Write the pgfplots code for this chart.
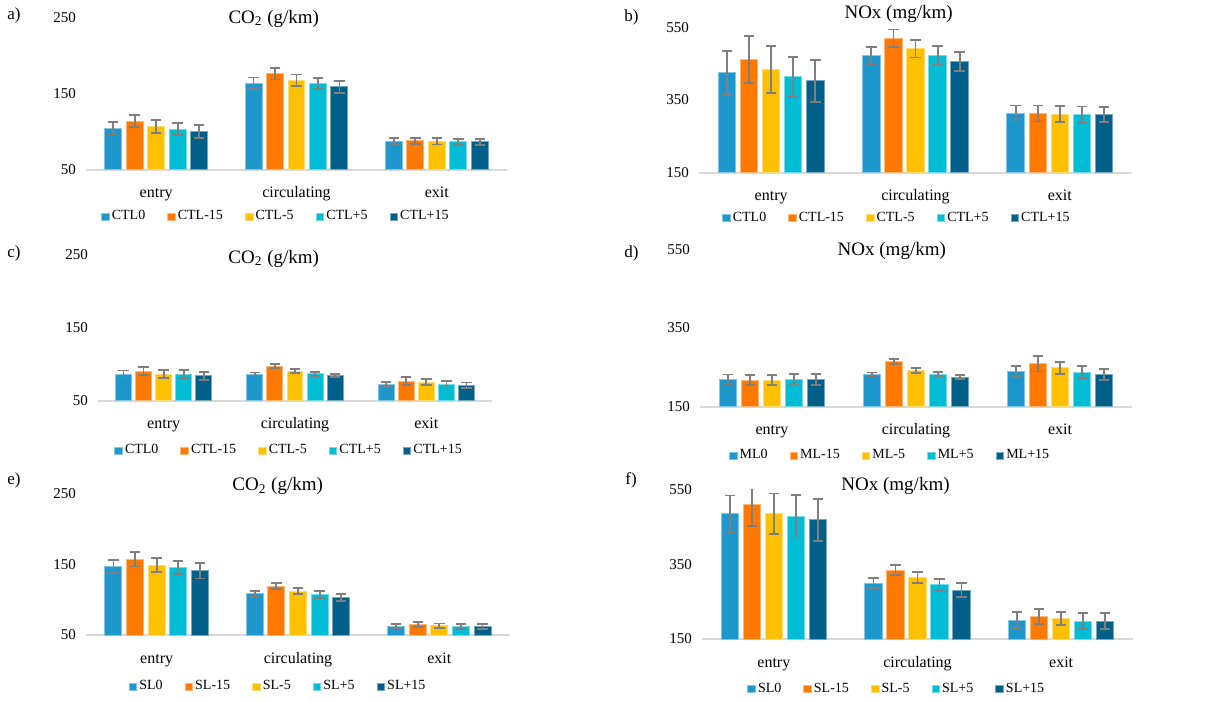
\documentclass[border=0pt]{standalone}
\usepackage{pgfplots}
\pgfplotsset{compat=1.18}
\usepackage{fontspec}
\setmainfont{Liberation Serif}
\definecolor{c0}{RGB}{30,152,204}
\definecolor{c1}{RGB}{255,120,0}
\definecolor{c2}{RGB}{255,192,0}
\definecolor{c3}{RGB}{0,188,212}
\definecolor{c4}{RGB}{0,96,138}
\definecolor{errgray}{RGB}{127,127,127}
\definecolor{basegray}{RGB}{217,217,217}
\pgfplotsset{
  panel/.style={
    scale only axis,
    xmin=-0.5, xmax=2.5,
    xtick={0,1,2}, xticklabels={entry,circulating,exit},
    axis x line*=bottom, axis y line*=left,
    x axis line style={draw=basegray, line width=1pt, -},
    y axis line style={draw=none},
    major tick length=0pt, tick style={draw=none},
    /pgf/number format/assume math mode=true,
    yticklabel style={font=\fontsize{7.5}{9}\selectfont, anchor=east, xshift=-1.5pt},
    xticklabel style={font=\fontsize{8}{9.6}\selectfont, anchor=base, yshift=-14pt},
    title style={font=\fontsize{9.5}{11}\selectfont, anchor=center},
    legend columns=5,
    legend style={draw=none, fill=none, font=\fontsize{7}{8}\selectfont, anchor=center,
      /tikz/every even column/.append style={column sep=10pt},
      nodes={inner sep=1pt}},
    legend cell align=left,
  },
  co/.style={ymin=50, ymax=250, ytick={50,150,250}},
  nox/.style={ymin=150, ymax=550, ytick={150,350,550}},
  bars/.style={ybar, bar width=0.121, bar shift=0pt, line width=0.5pt,
    legend image code/.code={\fill[##1] (0pt,-1.8pt) rectangle (3.8pt,1.8pt);},
    error bars/y dir=both, error bars/y explicit,
    error bars/error bar style={draw=errgray, line width=0.9pt},
    error bars/error mark options={draw=errgray, line width=0.9pt, mark size=2.6pt, rotate=90}},
  s0/.style={fill=c0, draw=c0!55!white, bars},
  s1/.style={fill=c1, draw=c1!55!white, bars},
  s2/.style={fill=c2, draw=c2!55!white, bars},
  s3/.style={fill=c3, draw=c3!55!white, bars},
  s4/.style={fill=c4, draw=c4!55!white, bars},
}
\begin{document}
\begin{tikzpicture}
\useasboundingbox (0pt,0pt) rectangle (612pt,350.5pt);

% a)
\begin{axis}[panel, co, at={(43pt,265.5pt)}, anchor=south west, width=210.5pt, height=76.35pt,
  title={CO\textsubscript{2} (g/km)}, title style={at={(0.446,0.912)}},
  legend style={at={(0.451,-0.306)}}]
\addplot[s0] coordinates {(-0.306,104.8) +- (0,8.3) (0.694,163.5) +- (0,7.6) (1.694,87.8) +- (0,4.1)};
\addplot[s1] coordinates {(-0.153,113.9) +- (0,8.0) (0.847,176.0) +- (0,7.6) (1.847,88.3) +- (0,4.0)};
\addplot[s2] coordinates {(0,107.4) +- (0,8.5) (1,167.8) +- (0,7.4) (2,87.8) +- (0,4.3)};
\addplot[s3] coordinates {(0.153,103.5) +- (0,7.6) (1.153,163.5) +- (0,7.4) (2.153,87.0) +- (0,4.0)};
\addplot[s4] coordinates {(0.306,100.4) +- (0,8.5) (1.306,158.7) +- (0,8.3) (2.306,87.0) +- (0,4.0)};
\legend{CTL0,CTL-15,CTL-5,CTL+5,CTL+15}
\end{axis}

% b)
\begin{axis}[panel, nox, at={(349.5pt,264.15pt)}, anchor=south west, width=216.5pt, height=72.65pt,
  title={NOx (mg/km)}, title style={at={(0.461,1.01)}},
  legend style={at={(0.457,-0.314)}}]
\addplot[s0] coordinates {(-0.306,424.5) +- (0,61) (0.694,472.7) +- (0,22.7) (1.694,312.7) +- (0,22)};
\addplot[s1] coordinates {(-0.153,461.8) +- (0,64) (0.847,520.0) +- (0,24) (1.847,312.7) +- (0,22)};
\addplot[s2] coordinates {(0,434.5) +- (0,64.5) (1,491.0) +- (0,24) (2,311.0) +- (0,22)};
\addplot[s3] coordinates {(0.153,413.6) +- (0,55) (1.153,473.6) +- (0,26) (2.153,309.0) +- (0,23)};
\addplot[s4] coordinates {(0.306,402.7) +- (0,57) (1.306,457.0) +- (0,26) (2.306,310.0) +- (0,21)};
\legend{CTL0,CTL-15,CTL-5,CTL+5,CTL+15}
\end{axis}

% c)
\begin{axis}[panel, co, at={(49pt,150.15pt)}, anchor=south west, width=197pt, height=72.85pt,
  title={CO\textsubscript{2} (g/km)}, title style={at={(0.446,0.892)}},
  legend style={at={(0.485,-0.343)}}]
\addplot[s0] coordinates {(-0.306,86.6) +- (0,4.8) (0.694,86.6) +- (0,2.0) (1.694,72.9) +- (0,3.2)};
\addplot[s1] coordinates {(-0.153,90.3) +- (0,5.5) (0.847,97.6) +- (0,2.3) (1.847,77.0) +- (0,5.3)};
\addplot[s2] coordinates {(0,86.6) +- (0,5.0) (1,90.3) +- (0,2.7) (2,75.6) +- (0,4.1)};
\addplot[s3] coordinates {(0.153,86.6) +- (0,5.0) (1.153,87.0) +- (0,2.7) (2.153,72.4) +- (0,4.3)};
\addplot[s4] coordinates {(0.306,84.3) +- (0,5.5) (1.306,84.3) +- (0,2.3) (2.306,71.0) +- (0,3.9)};
\legend{CTL0,CTL-15,CTL-5,CTL+5,CTL+15}
\end{axis}

% d)
\begin{axis}[panel, nox, at={(350pt,147.15pt)}, anchor=south west, width=216pt, height=78.7pt,
  title={NOx (mg/km)}, title style={at={(0.444,0.912)}},
  legend style={at={(0.44,-0.311)}}]
\addplot[s0] coordinates {(-0.306,219.5) +- (0,12.3) (0.694,232.2) +- (0,4.7) (1.694,239.8) +- (0,13.6)};
\addplot[s1] coordinates {(-0.153,217.8) +- (0,13.0) (0.847,264.4) +- (0,6.4) (1.847,259.3) +- (0,20.0)};
\addplot[s2] coordinates {(0,217.8) +- (0,13.0) (1,242.4) +- (0,6.4) (2,249.2) +- (0,15.3)};
\addplot[s3] coordinates {(0.153,220.3) +- (0,13.5) (1.153,233.0) +- (0,5.5) (2.153,238.1) +- (0,14.4)};
\addplot[s4] coordinates {(0.306,218.6) +- (0,14.4) (1.306,225.4) +- (0,5.5) (2.306,232.2) +- (0,14.4)};
\legend{ML0,ML-15,ML-5,ML+5,ML+15}
\end{axis}

% e)
\begin{axis}[panel, co, at={(43pt,33pt)}, anchor=south west, width=212pt, height=70.85pt,
  title={CO\textsubscript{2} (g/km)}, title style={at={(0.452,0.965)}},
  legend style={at={(0.453,-0.365)}}]
\addplot[s0] coordinates {(-0.306,146.5) +- (0,9.4) (0.694,107.9) +- (0,4.5) (1.694,62.7) +- (0,3.3)};
\addplot[s1] coordinates {(-0.153,156.8) +- (0,10.1) (0.847,118.7) +- (0,4.2) (1.847,64.6) +- (0,3.8)};
\addplot[s2] coordinates {(0,148.8) +- (0,9.4) (1,112.1) +- (0,4.2) (2,63.2) +- (0,3.0)};
\addplot[s3] coordinates {(0.153,145.0) +- (0,9.2) (1.153,107.0) +- (0,4.7) (2.153,62.2) +- (0,3.3)};
\addplot[s4] coordinates {(0.306,140.8) +- (0,11.0) (1.306,103.2) +- (0,4.7) (2.306,62.2) +- (0,3.3)};
\legend{SL0,SL-15,SL-5,SL+5,SL+15}
\end{axis}

% f)
\begin{axis}[panel, nox, at={(351pt,31pt)}, anchor=south west, width=215.5pt, height=74.5pt,
  title={NOx (mg/km)}, title style={at={(0.449,0.944)}},
  legend style={at={(0.452,-0.336)}}]
\addplot[s0] coordinates {(-0.306,485.6) +- (0,49.7) (0.694,300.3) +- (0,13.4) (1.694,201.0) +- (0,20.6)};
\addplot[s1] coordinates {(-0.153,512.4) +- (0,58.0) (0.847,335.2) +- (0,13.4) (1.847,210.8) +- (0,19.7)};
\addplot[s2] coordinates {(0,486.5) +- (0,54.0) (1,314.7) +- (0,15.2) (2,204.6) +- (0,17.4)};
\addplot[s3] coordinates {(0.153,479.3) +- (0,57.0) (1.153,296.8) +- (0,14.3) (2.153,198.3) +- (0,20.6)};
\addplot[s4] coordinates {(0.306,469.5) +- (0,57.0) (1.306,281.5) +- (0,18.3) (2.306,198.3) +- (0,21.0)};
\legend{SL0,SL-15,SL-5,SL+5,SL+15}
\end{axis}

\node[anchor=west, inner sep=0pt, font=\fontsize{8.5}{10}\selectfont] at (3.5pt,343pt) {a)};
\node[anchor=west, inner sep=0pt, font=\fontsize{8.5}{10}\selectfont] at (312pt,342pt) {b)};
\node[anchor=west, inner sep=0pt, font=\fontsize{8.5}{10}\selectfont] at (3.5pt,224pt) {c)};
\node[anchor=west, inner sep=0pt, font=\fontsize{8.5}{10}\selectfont] at (312pt,224pt) {d)};
\node[anchor=west, inner sep=0pt, font=\fontsize{8.5}{10}\selectfont] at (3.5pt,110.5pt) {e)};
\node[anchor=west, inner sep=0pt, font=\fontsize{8.5}{10}\selectfont] at (312.5pt,110.5pt) {f)};
\end{tikzpicture}
\end{document}
